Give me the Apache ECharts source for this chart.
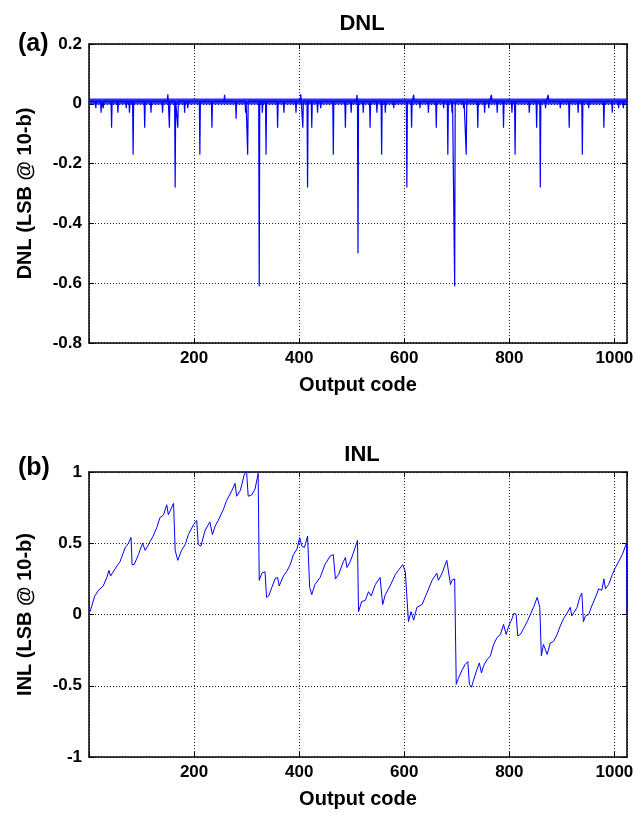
<!DOCTYPE html>
<html style="height: 100%">

<head>
    <meta charset="utf-8">
</head>

<body style="height: 100%; margin: 0; background: #fff">
    <div id="container" style="width: 642px; height: 815px"></div>
    <script src="https://cdn.jsdelivr.net/npm/echarts/dist/echarts.min.js"></script>
    <script type="text/javascript">
        // DNL: needle spikes, everything else sits in the noise band
        var dnlSpikeCodes = [13, 23, 27, 43, 55, 71, 77, 84, 106, 118, 140, 150, 153, 164, 169, 182, 188, 211, 234, 258,
            280, 298, 302, 324, 330, 337, 359, 371, 394, 403, 407, 416, 424, 435, 441, 465, 488, 499, 510, 512,
            522, 535, 548, 557, 564, 580, 605, 614, 618, 630, 646, 661, 675, 683, 691, 696, 713, 718, 740, 753,
            761, 766, 777, 789, 805, 811, 838, 852, 859, 869, 874, 897, 914, 931, 939, 951, 980, 996, 1008, 1017];
        var dnlSpikeValues = [-0.015, -0.03, -0.015, -0.08, -0.03, -0.015, -0.03, -0.17, -0.08, -0.03, -0.03, 0.032, -0.08, -0.28, -0.08, -0.03, -0.015, -0.17, -0.08, 0.03,
            -0.05, -0.03, -0.17, -0.61, -0.03, -0.17, -0.08, -0.03, -0.03, 0.032, -0.08, -0.28, -0.08, -0.03, -0.015, -0.17, -0.08, -0.03, 0.03, -0.5,
            -0.03, -0.08, -0.03, -0.17, -0.03, -0.015, -0.28, -0.08, 0.03, -0.015, -0.03, -0.08, -0.015, -0.17, -0.03, -0.61, -0.015, -0.17, -0.08, -0.03,
            -0.015, 0.03, -0.03, -0.08, -0.03, -0.17, -0.03, -0.08, -0.28, -0.015, 0.03, -0.015, -0.08, -0.03, -0.17, -0.015, -0.08, -0.03, -0.015, -0.015];
        var dnlFloor = 0.008;          // level the spikes leave from
        var dnlBand = [-0.002, 0.018]; // envelope of the code-to-code noise

        // INL: vertices
        var inlCodes = [2, 11, 18, 27, 34, 38, 41, 53, 59, 69, 75, 80, 82, 86, 94, 102, 107, 116, 122, 129,
            135, 142, 148, 151, 156, 161, 164, 169, 176, 183, 189, 199, 205, 208, 213, 221, 230, 235, 240, 246,
            256, 262, 272, 278, 281, 288, 296, 300, 303, 310, 316, 322, 324, 329, 335, 338, 342, 348, 354, 359,
            362, 370, 376, 383, 389, 396, 401, 405, 410, 416, 420, 424, 430, 440, 449, 459, 465, 469, 475, 484,
            488, 491, 497, 503, 511, 513, 519, 526, 532, 537, 545, 554, 559, 564, 573, 583, 589, 597, 602, 605,
            608, 613, 618, 624, 634, 643, 653, 662, 665, 672, 681, 684, 688, 691, 696, 699, 703, 710, 716, 721,
            724, 728, 732, 738, 743, 747, 751, 757, 764, 770, 777, 783, 789, 794, 799, 805, 809, 813, 816, 821,
            827, 834, 840, 846, 853, 858, 861, 865, 869, 872, 878, 884, 891, 897, 903, 910, 916, 919, 922, 929,
            934, 938, 941, 945, 951, 957, 965, 970, 976, 980, 983, 989, 996, 1002, 1008, 1015, 1023, 1024];
        var inlValues = [0.02, 0.13, 0.17, 0.20, 0.26, 0.31, 0.27, 0.34, 0.37, 0.47, 0.50, 0.54, 0.35, 0.35, 0.42, 0.50, 0.45, 0.51, 0.55, 0.61,
            0.68, 0.70, 0.77, 0.70, 0.74, 0.78, 0.45, 0.38, 0.45, 0.49, 0.56, 0.63, 0.66, 0.49, 0.48, 0.59, 0.65, 0.56, 0.62, 0.66,
            0.74, 0.80, 0.87, 0.92, 0.83, 0.87, 0.99, 1.00, 0.83, 0.84, 0.88, 0.99, 0.24, 0.29, 0.30, 0.12, 0.13, 0.19, 0.25, 0.26,
            0.20, 0.27, 0.30, 0.35, 0.42, 0.46, 0.54, 0.48, 0.47, 0.55, 0.19, 0.14, 0.21, 0.26, 0.35, 0.41, 0.42, 0.25, 0.28, 0.37,
            0.40, 0.33, 0.37, 0.43, 0.52, 0.02, 0.09, 0.10, 0.16, 0.13, 0.21, 0.26, 0.07, 0.14, 0.20, 0.28, 0.31, 0.35, 0.30, 0.30,
            -0.05, 0.02, -0.04, 0.05, 0.07, 0.15, 0.24, 0.29, 0.24, 0.29, 0.38, 0.39, 0.21, 0.24, 0.25, -0.49, -0.45, -0.39, -0.35, -0.33,
            -0.49, -0.51, -0.46, -0.39, -0.34, -0.41, -0.36, -0.32, -0.29, -0.21, -0.16, -0.14, -0.07, -0.14, -0.08, -0.03, 0.01, 0.00, -0.15, -0.14,
            -0.10, -0.05, 0.00, 0.05, 0.12, 0.05, -0.29, -0.21, -0.25, -0.28, -0.20, -0.19, -0.14, -0.08, -0.03, 0.01, 0.05, -0.01, -0.01, 0.05,
            0.12, 0.15, -0.05, -0.01, 0.00, 0.06, 0.13, 0.18, 0.17, 0.25, 0.18, 0.21, 0.28, 0.33, 0.37, 0.42, 0.50, 0.00];

        var dnlData = [[1, dnlFloor]];
        for (var i = 0; i < dnlSpikeCodes.length; i++) {
            var c = dnlSpikeCodes[i];
            dnlData.push([c - 1, dnlFloor], [c, dnlSpikeValues[i]], [c + 1, dnlFloor]);
        }
        dnlData.push([1024, dnlFloor]);

        var inlData = [];
        for (var j = 0; j < inlCodes.length; j++) {
            inlData.push([inlCodes[j], inlValues[j]]);
        }

        var font = 'Liberation Sans';
        var black = '#000';
        var gridDot = { show: true, lineStyle: { color: '#222', type: [1, 2], width: 1 } };
        var frameLine = { onZero: false, lineStyle: { color: black, width: 1.5 } };
        var inTick = { inside: true, length: 5, lineStyle: { color: black } };

        function oneDec(v) {
            if (Math.abs(v) < 1e-9) return '0';
            return String(+v.toFixed(1));
        }

        function codeAxis(gi, name) {
            return [{
                type: 'value', gridIndex: gi, min: 0, max: 1024, interval: 200, position: 'bottom',
                name: name, nameLocation: 'middle', nameGap: 32,
                nameTextStyle: { fontFamily: font, fontWeight: 'bold', fontSize: 20, color: black },
                axisLine: frameLine,
                axisTick: inTick,
                axisLabel: {
                    margin: 7, fontFamily: font, fontWeight: 'bold', fontSize: 17, color: black,
                    formatter: function (v) { return v === 0 ? '' : String(v); }
                },
                splitLine: gridDot
            }, {
                type: 'value', gridIndex: gi, min: 0, max: 1024, interval: 200, position: 'top',
                axisLine: frameLine,
                axisTick: inTick,
                axisLabel: { show: false }, splitLine: { show: false }
            }];
        }

        function levelAxis(gi, name, lo, hi, step) {
            return [{
                type: 'value', gridIndex: gi, min: lo, max: hi, interval: step, position: 'left',
                name: name, nameLocation: 'middle', nameGap: 54, nameRotate: 90,
                nameTextStyle: { fontFamily: font, fontWeight: 'bold', fontSize: 20, color: black },
                axisLine: frameLine,
                axisTick: inTick,
                axisLabel: { margin: 7, fontFamily: font, fontWeight: 'bold', fontSize: 17, color: black, formatter: oneDec },
                splitLine: gridDot
            }, {
                type: 'value', gridIndex: gi, min: lo, max: hi, interval: step, position: 'right',
                axisLine: frameLine,
                axisTick: inTick,
                axisLabel: { show: false }, splitLine: { show: false }
            }];
        }

        var dom = document.getElementById("container");
        var myChart = echarts.init(dom);
        var option = {
            animation: false,
            backgroundColor: '#fff',
            title: [
                { text: 'DNL', left: 357, top: 8, textAlign: 'center', textStyle: { fontFamily: font, fontWeight: 'bold', fontSize: 22, color: black } },
                { text: '(a)', left: 13, top: 27, textStyle: { fontFamily: font, fontWeight: 'bold', fontSize: 25, color: black } },
                { text: 'INL', left: 357, top: 439, textAlign: 'center', textStyle: { fontFamily: font, fontWeight: 'bold', fontSize: 22, color: black } },
                { text: '(b)', left: 13, top: 451, textStyle: { fontFamily: font, fontWeight: 'bold', fontSize: 25, color: black } }
            ],
            grid: [
                { left: 89, top: 44, width: 538, height: 299 },
                { left: 89, top: 472, width: 538, height: 285 }
            ],
            xAxis: codeAxis(0, 'Output code').concat(codeAxis(1, 'Output code')),
            yAxis: levelAxis(0, 'DNL (LSB @ 10-b)', -0.8, 0.2, 0.2).concat(levelAxis(1, 'INL (LSB @ 10-b)', -1, 1, 0.5)),
            series: [
                {
                    name: 'DNL', type: 'line', xAxisIndex: 0, yAxisIndex: 0,
                    showSymbol: false, lineStyle: { color: '#0000ff', width: 1.2 },
                    data: dnlData,
                    markArea: {
                        silent: true,
                        itemStyle: { color: 'rgba(0,0,255,0.82)' },
                        data: [[{ xAxis: 1, yAxis: dnlBand[0] }, { xAxis: 1024, yAxis: dnlBand[1] }]]
                    }
                },
                {
                    name: 'INL', type: 'line', xAxisIndex: 2, yAxisIndex: 2,
                    showSymbol: false, lineStyle: { color: '#0000ff', width: 1 },
                    data: inlData
                }
            ]
        };
        myChart.setOption(option);
    </script>
</body>

</html>
